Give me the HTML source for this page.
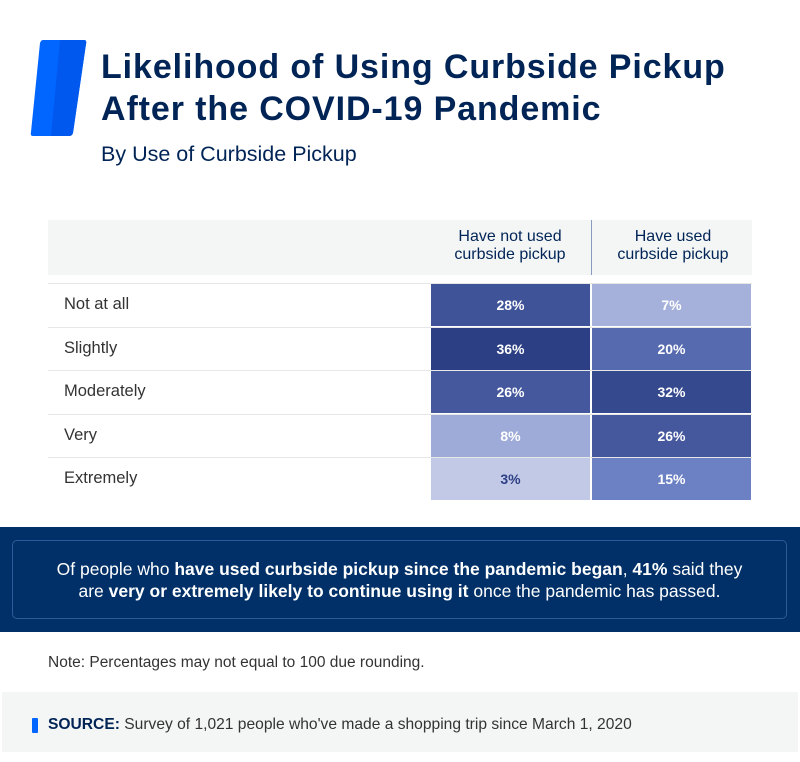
<!DOCTYPE html>
<html><head><meta charset="utf-8"><style>
body{margin:0;width:800px;height:762px;background:#fff;font-family:"Liberation Sans",sans-serif;position:relative;overflow:hidden}
.abs{position:absolute}
.title{left:101px;top:46px;font-size:34px;font-weight:bold;color:#012456;line-height:42px;letter-spacing:0.9px}
.sub{left:101px;top:142px;font-size:21.5px;color:#012456}
.hdr{top:220px;height:55px;background:#f4f6f6;left:48px;width:704px}
.hcell{top:228px;width:160px;text-align:center;font-size:16px;color:#012456;line-height:18px}
.row{left:48px;width:704px;border-top:1px solid #e6e8e8;height:43px}
.lab{left:64px;font-size:16.5px;color:#333}
.cell{width:159px;height:42px;color:#fff;font-weight:bold;font-size:14px;text-align:center;line-height:42px}
</style></head><body>
<svg class="abs" style="left:30px;top:38px" width="58" height="100">
<path d="M13,2 H54 Q57,2 56,6 L43,95 Q42,98 39,98 H3 Q0,98 1,94 L10,5 Q11,2 13,2Z" fill="#0066ff"/>
<path d="M30,2 H54 Q57,2 56,6 L43,95 Q42,98 39,98 H21 L30,2Z" fill="#0058ef"/>
</svg>
<div class="abs title">Likelihood of Using Curbside Pickup<br>After the COVID-19 Pandemic</div>
<div class="abs sub">By Use of Curbside Pickup</div>
<div class="abs hdr"></div>
<div class="abs" style="left:591px;top:220px;width:1px;height:55px;background:#8a9bc0"></div>
<div class="abs hcell" style="left:430px">Have not used<br>curbside pickup</div>
<div class="abs hcell" style="left:593px">Have used<br>curbside pickup</div>
<div id="tbl"></div>
<div class="abs" style="left:0;top:527px;width:800px;height:105px;background:#003067"></div>
<div class="abs" style="left:12px;top:540px;width:775px;height:79px;border:1px solid #2e5a9a;border-radius:5px;color:#fff;font-size:17.5px;text-align:center;line-height:22px;box-sizing:border-box;padding-top:17px">Of people who <b>have used curbside pickup since the pandemic began</b>, <b>41%</b> said they<br>are <b>very or extremely likely to continue using it</b> once the pandemic has passed.</div>
<div class="abs" style="left:48px;top:654px;font-size:15.5px;color:#333">Note: Percentages may not equal to 100 due rounding.</div>
<div class="abs" style="left:2px;top:692px;width:796px;height:60px;background:#f4f5f5"></div>
<div class="abs" style="left:32px;top:718px;width:6px;height:15px;background:#0066ff;border-radius:1px"></div>
<div class="abs" style="left:48px;top:716px;font-size:15.6px;color:#333"><b style="color:#012456">SOURCE:</b> Survey of 1,021 people who've made a shopping trip since March 1, 2020</div>
<script>
const categories=["Not at all","Slightly","Moderately","Very","Extremely"];
const notUsed=[28,36,26,8,3];
const used=[7,20,32,26,15];
function lerp(a,b,t){return a.map((v,i)=>Math.round(v+(b[i]-v)*t));}
function color(v){const s0=[194,201,230],s1=[108,128,196],s2=[44,63,133];
if(v<=15){const t=Math.max(0,(v-3)/12);return lerp(s0,s1,t);}const t=Math.min(1,Math.pow((v-15)/21,0.75));return lerp(s1,s2,t);}
const tbl=document.getElementById('tbl');
const y0=283,rh=43.5;
categories.forEach((c,i)=>{
 const y=y0+i*rh;
 const r=document.createElement('div');r.className='abs row';r.style.top=y+'px';
 
 tbl.appendChild(r);
 const l=document.createElement('div');l.className='abs lab';l.style.top=(y+12)+'px';l.textContent=c;
 
 tbl.appendChild(l);
 [[notUsed,431],[used,592]].forEach(([arr,x],j)=>{
  const v=arr[i];const col=color(v);
  const d=document.createElement('div');d.className='abs cell';
  d.style.left=x+'px';d.style.top=(y+1)+'px';d.style.background='rgb('+col.join(',')+')';
  if(v<5)d.style.color='#2c3f85';
  d.textContent=v+'%';
  
  
  tbl.appendChild(d);
 });
});
</script>
</body></html>
